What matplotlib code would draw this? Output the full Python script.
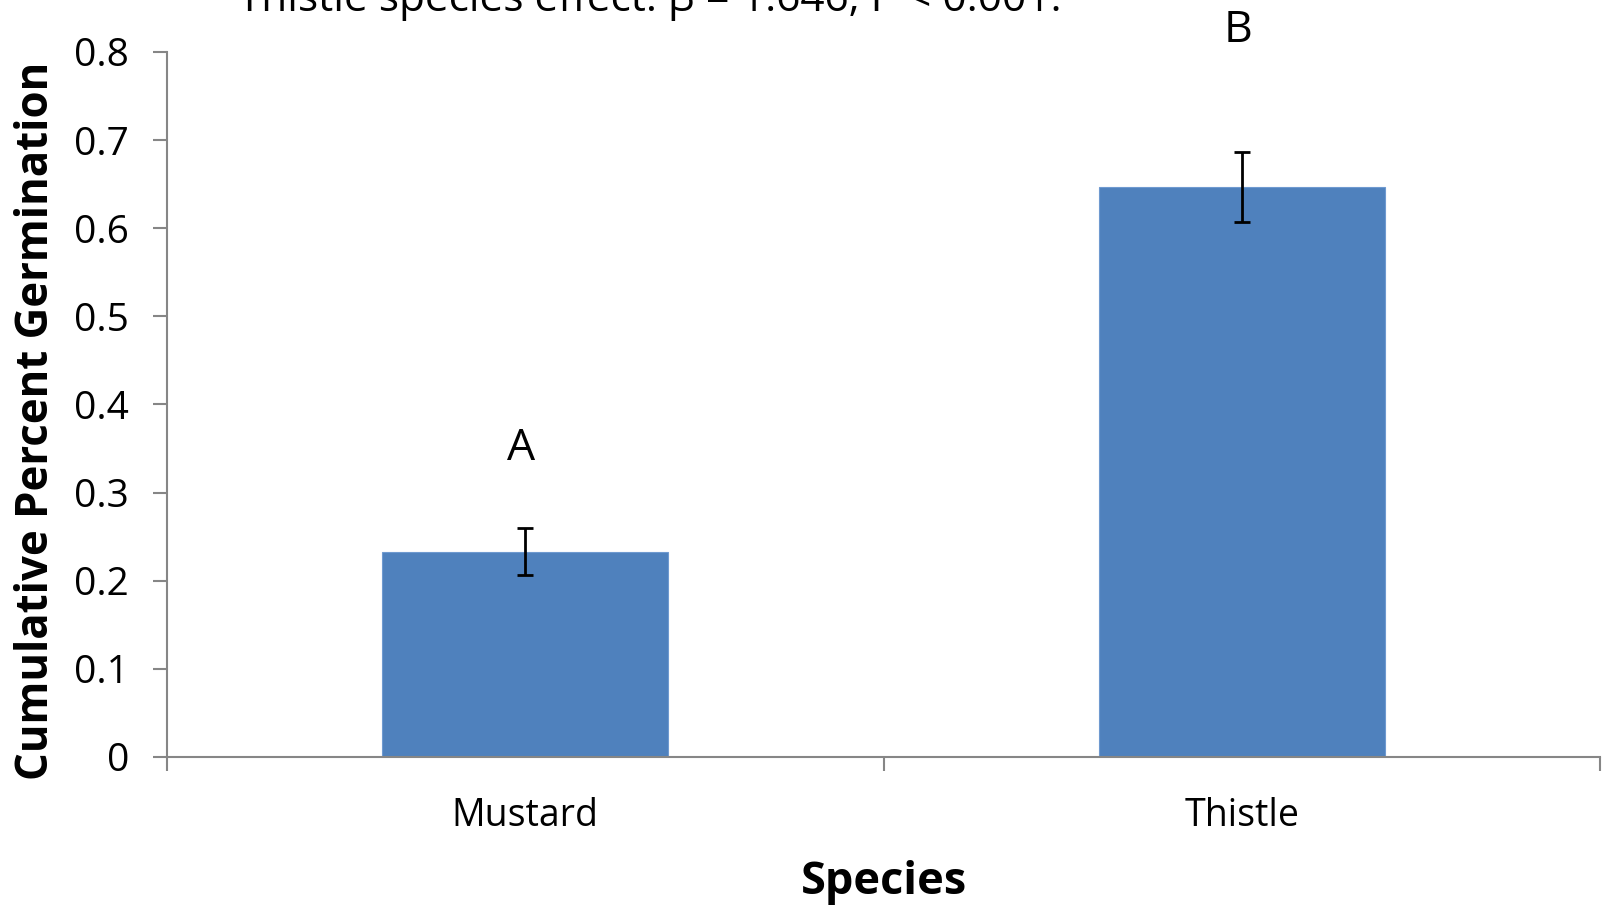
import matplotlib
matplotlib.use('Agg')
import matplotlib.pyplot as plt
from matplotlib.ticker import FixedLocator, NullFormatter

plt.rcParams['font.family'] = ['Open Sans', 'DejaVu Sans']

species = ['Mustard', 'Thistle']
germination = [0.233, 0.647]
err = [0.0265, 0.04]
letters = ['A', 'B']
letter_y = [0.350, 0.824]
title_text = 'Thistle species effect: \u03b2 = 1.646, P < 0.001.'

fig = plt.figure(figsize=(16.02, 9.07), dpi=100)
ax = fig.add_axes([0.104, 0.1654, 0.895, 0.7773])

x = list(range(len(species)))
ax.bar(x, germination, width=0.4, color='#4F81BD', edgecolor='#6F9AD0', linewidth=0.8, zorder=2)
ax.errorbar(x, germination, yerr=err, fmt='none', ecolor='black', elinewidth=2,
            capsize=6, capthick=2, zorder=3)

for xi, lab, ly in zip(x, letters, letter_y):
    ax.text(xi - 0.005, ly, lab, ha='center', va='center', fontsize=32, clip_on=False)

ax.set_xlim(-0.5, 1.5)
ax.set_ylim(0, 0.8)
ax.set_yticks([0, 0.1, 0.2, 0.3, 0.4, 0.5, 0.6, 0.7, 0.8])
ax.set_yticklabels(['0', '0.1', '0.2', '0.3', '0.4', '0.5', '0.6', '0.7', '0.8'])

# category boundaries get the tick marks, names sit between them
ax.xaxis.set_major_locator(FixedLocator([-0.5, 0.5, 1.5]))
ax.xaxis.set_major_formatter(NullFormatter())
ax.xaxis.set_minor_locator(FixedLocator(x))
ax.set_xticklabels(species, minor=True)
ax.tick_params(axis='x', which='minor', length=0, labelsize=27, pad=29)
ax.tick_params(axis='x', which='major', length=10, width=1.5, color='#868686', direction='out')
ax.tick_params(axis='y', length=10, width=1.5, color='#868686', direction='out', labelsize=28, pad=17)

for side in ['top', 'right']:
    ax.spines[side].set_visible(False)
for side in ['left', 'bottom']:
    ax.spines[side].set_color('#868686')
    ax.spines[side].set_linewidth(1.5)

ax.set_ylabel('Cumulative Percent Germination', fontsize=31.5, fontweight='bold', va='center')
ax.yaxis.set_label_coords(-0.091, 0.477)
ax.set_xlabel('Species', fontsize=32.5, fontweight='bold', va='center')
ax.xaxis.set_label_coords(0.5, -0.178)

fig.text(238 / 1602, 1 - 11 / 907, title_text, fontsize=30.5, ha='left', va='baseline')

fig.savefig('out.png', dpi=100)
